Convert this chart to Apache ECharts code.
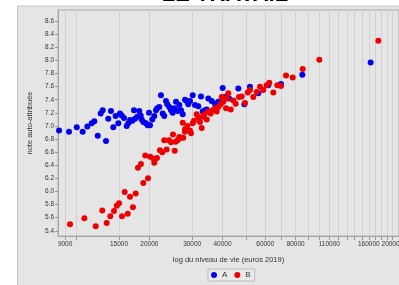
<!DOCTYPE html>
<html>
<head>
<meta charset="utf-8">
<script src="https://cdn.jsdelivr.net/npm/echarts@6/dist/echarts.min.js"></script>
<style>
  html, body { margin: 0; padding: 0; background: #fff; }
  #chart { width: 399px; height: 285px; }
</style>
</head>
<body>
<div id="chart"></div>
<script>
// niveau de vie (euros 2019), note auto-attribuée
var groupA = [
  [8500, 6.93], [9340, 6.91], [10050, 6.98], [10630, 6.91], [11110, 6.99], [11580, 7.04],
  [11870, 7.07], [12260, 6.85], [12610, 7.19], [12850, 7.24], [13260, 6.77], [13550, 7.11],
  [13900, 7.23], [14210, 6.98], [14530, 7.15], [14900, 7.04], [15140, 7.19], [15390, 7.16],
  [15730, 7.12], [16130, 7.00], [16380, 7.04], [16650, 7.09], [17010, 7.08], [17290, 7.24],
  [17450, 7.11], [17830, 7.14], [18180, 7.23], [18420, 7.16], [18590, 7.10], [18880, 7.06],
  [19370, 7.04], [19680, 7.01], [19930, 7.20], [20120, 7.01], [20560, 7.10], [20950, 7.15],
  [21290, 7.24], [21550, 7.27], [21970, 7.29], [22320, 7.47], [22690, 7.19], [23030, 7.15],
  [23410, 7.38], [23700, 7.33], [24150, 7.29], [24550, 7.24], [24950, 7.20], [25330, 7.27],
  [25740, 7.37], [26160, 7.23], [26560, 7.32], [26990, 7.24], [27430, 7.18], [28030, 7.40],
  [28490, 7.38], [28920, 7.33], [29390, 7.38], [30150, 7.47], [30820, 7.32], [31800, 7.30],
  [32620, 7.45], [33150, 7.22], [33880, 7.24], [34430, 7.25], [34960, 7.42], [36100, 7.38],
  [37250, 7.34], [38430, 7.37], [40070, 7.58], [40950, 7.44], [42530, 7.42], [46450, 7.57],
  [49170, 7.33], [51890, 7.60], [56140, 7.50], [61710, 7.62], [69610, 7.64], [85180, 7.78],
  [162800, 7.97]
];
var groupB = [
  [9430, 5.50], [10800, 5.59], [12030, 5.47], [12800, 5.71], [13350, 5.52], [13810, 5.62],
  [14300, 5.70], [14680, 5.78], [15000, 5.82], [15430, 5.62], [15830, 5.99], [16290, 5.66],
  [16650, 5.92], [17120, 5.76], [17570, 5.97], [17950, 6.36], [18470, 6.42], [18880, 6.13],
  [19240, 6.55], [19740, 6.20], [20170, 6.53], [20830, 6.50], [20950, 6.44], [21490, 6.51],
  [22110, 6.63], [22600, 6.60], [23030, 6.78], [23560, 6.64], [24080, 6.78], [24550, 6.75],
  [25020, 6.87], [25430, 6.62], [25670, 6.76], [26160, 6.78], [26560, 6.83], [27170, 6.82],
  [27580, 6.82], [28030, 6.91], [29670, 6.89], [27430, 7.05], [28030, 6.95], [28650, 7.00],
  [29390, 6.93], [30150, 7.04], [30520, 7.08], [31310, 7.18], [31800, 7.13], [32310, 7.06],
  [32840, 6.97], [33150, 7.14], [33660, 7.18], [34430, 7.10], [34960, 7.22], [35760, 7.19],
  [36440, 7.24], [37250, 7.27], [37850, 7.22], [38430, 7.29], [39310, 7.33], [39690, 7.44],
  [40300, 7.37], [41350, 7.27], [41610, 7.42], [42250, 7.50], [43220, 7.25], [44300, 7.39],
  [45320, 7.34], [46760, 7.44], [47970, 7.45], [49490, 7.35], [50780, 7.51], [51890, 7.55],
  [53540, 7.44], [55290, 7.52], [57050, 7.60], [58860, 7.55], [60780, 7.62], [62300, 7.66],
  [64710, 7.51], [67210, 7.62], [69610, 7.61], [72990, 7.77], [77780, 7.74], [85510, 7.87],
  [100070, 8.01], [175100, 8.30]
];
var xTicks = [9000, 10000, 15000, 20000, 30000, 40000, 50000, 60000, 70000, 80000, 90000,
  100000, 110000, 120000, 130000, 140000, 150000, 160000, 170000, 180000, 190000, 200000];
var xLabels = [9000, 15000, 20000, 30000, 40000, 60000, 80000, 110000, 160000, 200000];
var yLabels = [5.4, 5.6, 5.8, 6.0, 6.2, 6.4, 6.6, 6.8, 7.0, 7.2, 7.4, 7.6, 7.8, 8.0, 8.2, 8.4, 8.6];

// axe x en log10 du revenu
function toLog(pts) {
  return pts.map(function (p) { return [Math.log10(p[0]), p[1]]; });
}
var lg = function (v) { return Math.log10(v); };

var myChart = echarts.init(document.getElementById('chart'));

var font = 'Liberation Sans, Arial, sans-serif';
var option = {
  backgroundColor: '#fff',
  animation: false,
  textStyle: { fontFamily: font },
  graphic: [
    {
      type: 'rect', z: -10, silent: true,
      shape: { x: 17.5, y: 6, width: 390, height: 290 },
      style: { fill: '#e5e5e5', stroke: '#c4c4c4', lineWidth: 1 }
    },
    {
      // titre coupé en haut de l'image
      type: 'text', z: 10,
      style: {
        text: 'LE TRAVAIL', x: 225, y: -16,
        textAlign: 'center', textVerticalAlign: 'top',
        font: 'bold 22px ' + font, fill: '#000'
      }
    }
  ],
  grid: {
    left: 58, right: 0, top: 10, bottom: 49,
    show: true, backgroundColor: '#e5e5e5', borderColor: '#a8a8a8', borderWidth: 1,
    outerBoundsMode: 'none'
  },
  legend: {
    data: ['A', 'B'],
    left: 208, top: 269,
    padding: [2, 4, 2, 3],
    itemGap: 7, itemWidth: 6, itemHeight: 6,
    icon: 'circle',
    borderColor: '#bdbdbd', borderWidth: 1,
    backgroundColor: '#e9e9e9',
    textStyle: { fontSize: 8, color: '#333', fontFamily: font }
  },
  xAxis: {
    type: 'value',
    min: 3.925, max: 5.3283,
    name: 'log du niveau de vie (euros 2019)',
    nameLocation: 'middle', nameGap: 20,
    nameTextStyle: { fontSize: 7.5, color: '#333' },
    axisLine: { show: true, lineStyle: { color: '#a8a8a8' } },
    axisTick: { show: true, length: 4, customValues: xTicks.map(lg), lineStyle: { color: '#999' } },
    axisLabel: {
      customValues: xLabels.map(lg), fontSize: 6.5, color: '#333', margin: 5,
      formatter: function (v) { return String(Math.round(Math.pow(10, v) / 1000) * 1000); }
    },
    splitLine: { show: true, lineStyle: { color: '#d2d2d2', width: 1 } }
  },
  yAxis: {
    type: 'value',
    min: 5.32, max: 8.77,
    name: 'note auto-attribuée',
    nameLocation: 'middle', nameGap: 24, nameRotate: 90,
    nameTextStyle: { fontSize: 7.5, color: '#333' },
    axisLine: { show: true, lineStyle: { color: '#a8a8a8' } },
    axisTick: { show: true, length: 3, customValues: yLabels, lineStyle: { color: '#999' } },
    axisLabel: {
      customValues: yLabels, fontSize: 6.5, color: '#333', margin: 4,
      formatter: function (v) { return v.toFixed(1); }
    },
    splitLine: { show: false }
  },
  series: [
    {
      name: 'A', type: 'scatter', symbolSize: 6,
      itemStyle: { color: '#0000ee', opacity: 1 },
      data: toLog(groupA)
    },
    {
      name: 'B', type: 'scatter', symbolSize: 6,
      itemStyle: { color: '#ee0000', opacity: 1 },
      data: toLog(groupB)
    }
  ]
};
myChart.setOption(option);
</script>
</body>
</html>
